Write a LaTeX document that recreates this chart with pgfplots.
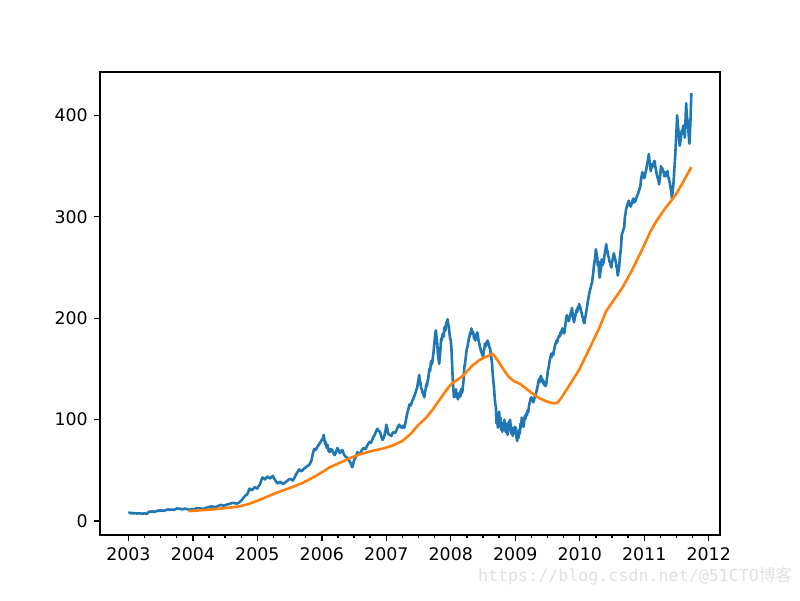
\documentclass[border=0pt]{standalone}
\usepackage{pgfplots}
\pgfplotsset{compat=1.18}
\usepackage{fontspec}
\setmainfont{DejaVu Sans}
\setmonofont{DejaVu Sans Mono}
\newfontfamily\cjk{Noto Sans CJK SC}
\definecolor{mplblue}{HTML}{1F77B4}
\definecolor{mplorange}{HTML}{FF7F0E}
\begin{document}
\begin{tikzpicture}[x=1pt,y=1pt]
\path (0,0) rectangle (576,432);
\begin{axis}[
  at={(72pt,46.8pt)}, anchor=south west,
  scale only axis, width=446.4pt, height=333.36pt,
  xmin=2002.56, xmax=2012.175,
  ymin=-13.75, ymax=442.75,
  axis line style={line width=1pt},
  tick align=outside, xtick pos=bottom, ytick pos=left,
  major tick length=4.32pt, minor tick length=2.5pt,
  every tick/.style={black, line width=1pt},
  xtick={2003,2004,2005,2006,2007,2008,2009,2010,2011,2012},
  xticklabels={2003,2004,2005,2006,2007,2008,2009,2010,2011,2012},
  minor x tick num=3,
  ytick={0,100,200,300,400},
  font=\fontsize{12.5}{15}\selectfont,
  tick label style={font=\fontsize{12.5}{15}\selectfont},
  /pgf/number format/assume math mode=true,
  xticklabel style={yshift=-1pt},
  yticklabel style={xshift=-1pt},
  clip=false,
]
\addplot[mplblue, line width=1.875pt, line join=round] coordinates {
(2003.00,7.9) (2003.02,8.3) (2003.04,7.6) (2003.06,8.0) (2003.08,7.5) (2003.11,7.9) (2003.13,7.4) (2003.15,7.7) (2003.19,7.5) (2003.22,7.3) (2003.25,7.6) (2003.28,7.0)
(2003.31,8.6) (2003.33,9.5) (2003.35,9.0) (2003.37,9.6) (2003.40,9.0) (2003.44,9.8) (2003.47,10.5) (2003.49,10.0) (2003.51,10.6) (2003.55,10.0)
(2003.58,10.8) (2003.62,11.5) (2003.64,10.9) (2003.66,11.4) (2003.70,11.0) (2003.73,11.8) (2003.76,12.5) (2003.78,11.9) (2003.80,12.3) (2003.83,11.5)
(2003.87,12.2) (2003.90,12.0) (2003.95,11.0) (2003.98,11.8) (2004.02,11.5) (2004.06,12.8) (2004.10,12.5) (2004.14,12.2) (2004.17,12.0)
(2004.21,13.2) (2004.24,13.5) (2004.27,14.2) (2004.30,14.5) (2004.33,13.8) (2004.36,14.0) (2004.40,15.0) (2004.43,16.0)
(2004.47,15.2) (2004.50,15.5) (2004.54,16.5) (2004.57,17.0) (2004.60,17.6) (2004.63,18.0) (2004.67,17.2) (2004.70,17.5)
(2004.73,19.0) (2004.75,20.0) (2004.78,22.5) (2004.80,24.0) (2004.82,25.5) (2004.84,26.0) (2004.86,29.0) (2004.88,32.0) (2004.90,31.0)
(2004.92,30.5) (2004.94,32.0) (2004.96,33.5) (2004.98,32.5) (2005.00,32.0) (2005.02,34.5) (2005.04,36.0) (2005.06,40.0) (2005.08,43.0)
(2005.10,42.0) (2005.12,41.0) (2005.14,43.0) (2005.16,44.0) (2005.18,42.5) (2005.20,42.0) (2005.22,43.5) (2005.24,44.5) (2005.26,42.0)
(2005.28,40.0) (2005.30,38.0) (2005.32,37.0) (2005.34,38.5) (2005.36,38.5) (2005.38,37.5) (2005.40,36.5) (2005.43,38.0) (2005.45,39.0)
(2005.48,40.5) (2005.50,41.5) (2005.53,41.0) (2005.55,40.0) (2005.58,43.0) (2005.60,46.0) (2005.63,49.0) (2005.65,51.0)
(2005.68,49.0) (2005.70,50.0) (2005.73,52.0) (2005.75,53.0) (2005.78,54.5) (2005.80,55.0) (2005.82,57.0) (2005.84,60.0) (2005.86,66.0)
(2005.88,71.0) (2005.90,70.0) (2005.92,72.0) (2005.94,74.0) (2005.96,76.0) (2005.98,78.0) (2006.00,80.0) (2006.02,82.0) (2006.03,85.0)
(2006.04,80.0) (2006.05,76.0) (2006.06,78.0) (2006.07,74.0) (2006.08,72.0) (2006.09,75.0) (2006.10,70.0) (2006.12,68.0) (2006.14,71.0) (2006.16,70.0) (2006.18,67.0)
(2006.20,65.0) (2006.22,68.0) (2006.24,72.0) (2006.26,70.0) (2006.28,67.0) (2006.30,69.0) (2006.32,70.0) (2006.34,66.0) (2006.36,64.0)
(2006.38,63.0) (2006.40,62.0) (2006.42,60.0) (2006.44,58.0) (2006.46,55.0) (2006.47,53.0) (2006.49,57.0) (2006.50,60.0) (2006.53,64.0)
(2006.55,68.0) (2006.58,66.0) (2006.60,67.0) (2006.62,70.0) (2006.65,72.0) (2006.68,71.0) (2006.70,74.0) (2006.72,76.0) (2006.74,78.0)
(2006.76,77.0) (2006.78,80.0) (2006.80,83.0) (2006.82,85.0) (2006.84,88.0) (2006.86,91.0) (2006.88,89.0) (2006.90,88.0) (2006.92,84.0)
(2006.94,80.0) (2006.96,82.0) (2006.97,84.0) (2006.99,90.0) (2007.00,95.0) (2007.02,90.0) (2007.03,86.0) (2007.05,85.0) (2007.08,84.0)
(2007.10,87.0) (2007.12,88.0) (2007.14,87.0) (2007.16,90.0) (2007.18,93.0) (2007.20,95.0) (2007.22,93.0) (2007.24,92.0) (2007.26,94.0)
(2007.28,92.0) (2007.30,98.0) (2007.32,105.0) (2007.34,110.0) (2007.36,115.0) (2007.38,114.0) (2007.40,118.0) (2007.42,121.0) (2007.44,124.0)
(2007.46,128.0) (2007.48,132.0) (2007.50,140.0) (2007.51,144.0) (2007.52,138.0) (2007.53,136.0) (2007.54,131.0) (2007.55,130.0) (2007.56,127.0) (2007.57,126.0) (2007.58,124.0) (2007.59,122.0) (2007.60,127.0) (2007.61,130.0)
(2007.62,135.0) (2007.63,133.0) (2007.64,138.0) (2007.65,140.0) (2007.66,146.0) (2007.67,150.0) (2007.68,148.0) (2007.69,156.0) (2007.70,158.0) (2007.71,155.0) (2007.72,160.0) (2007.73,165.0) (2007.74,172.0) (2007.75,178.0) (2007.76,185.0)
(2007.77,188.0) (2007.78,180.0) (2007.79,175.0) (2007.80,165.0) (2007.81,160.0) (2007.82,155.0) (2007.83,162.0) (2007.84,170.0) (2007.85,180.0) (2007.86,178.0) (2007.87,183.0) (2007.88,185.0) (2007.89,182.0) (2007.90,190.0)
(2007.91,192.0) (2007.92,188.0) (2007.93,196.0) (2007.94,193.0) (2007.95,199.0) (2007.96,194.0) (2007.97,192.0) (2007.98,185.0) (2007.99,180.0) (2008.00,178.0) (2008.01,170.0) (2008.02,155.0) (2008.03,140.0)
(2008.04,130.0) (2008.05,122.0) (2008.06,128.0) (2008.07,125.0) (2008.08,130.0) (2008.09,122.0) (2008.10,126.0) (2008.11,120.0) (2008.12,124.0) (2008.13,122.0) (2008.14,127.0) (2008.15,123.0) (2008.16,130.0)
(2008.17,126.0) (2008.18,128.0) (2008.19,134.0) (2008.20,140.0) (2008.21,152.0) (2008.22,155.0) (2008.23,160.0) (2008.24,166.0) (2008.25,170.0) (2008.26,172.0) (2008.27,176.0) (2008.28,180.0) (2008.29,182.0) (2008.30,186.0) (2008.31,184.0) (2008.32,190.0)
(2008.33,186.0) (2008.34,187.0) (2008.35,185.0) (2008.36,180.0) (2008.37,182.0) (2008.38,178.0) (2008.39,184.0) (2008.40,181.0) (2008.41,186.0) (2008.42,183.0) (2008.43,178.0) (2008.44,176.0) (2008.45,172.0) (2008.46,170.0) (2008.47,167.0) (2008.48,166.0)
(2008.49,164.0) (2008.50,162.0) (2008.51,167.0) (2008.52,170.0) (2008.53,175.0) (2008.54,172.0) (2008.55,176.0) (2008.56,174.0) (2008.57,178.0) (2008.58,176.0) (2008.59,174.0) (2008.60,171.0) (2008.61,170.0) (2008.62,165.0) (2008.63,160.0) (2008.64,155.0)
(2008.65,145.0) (2008.66,138.0) (2008.67,132.0) (2008.68,122.0) (2008.69,116.0) (2008.70,112.0) (2008.71,96.0) (2008.72,104.0) (2008.73,92.0) (2008.74,100.0) (2008.75,108.0) (2008.76,95.0) (2008.77,102.0)
(2008.78,90.0) (2008.79,97.0) (2008.80,88.0) (2008.81,96.0) (2008.82,92.0) (2008.83,100.0) (2008.84,94.0) (2008.85,88.0) (2008.86,96.0) (2008.87,90.0) (2008.88,85.0) (2008.89,93.0) (2008.90,98.0) (2008.91,90.0)
(2008.92,100.0) (2008.93,92.0) (2008.94,86.0) (2008.95,92.0) (2008.96,84.0) (2008.97,90.0) (2008.98,86.0) (2008.99,93.0) (2009.00,88.0) (2009.01,92.0) (2009.02,82.0) (2009.03,79.0) (2009.04,86.0)
(2009.05,82.0) (2009.06,90.0) (2009.07,86.0) (2009.08,96.0) (2009.09,92.0) (2009.10,102.0) (2009.11,95.0) (2009.12,99.0) (2009.13,93.0) (2009.14,100.0) (2009.15,104.0) (2009.16,101.0) (2009.17,106.0) (2009.18,104.0) (2009.19,109.0) (2009.20,107.0) (2009.21,112.0) (2009.22,116.0) (2009.23,118.0) (2009.24,121.0) (2009.25,122.0) (2009.26,119.0) (2009.27,120.0) (2009.28,117.0) (2009.29,119.0)
(2009.30,122.0) (2009.31,124.0) (2009.32,126.0) (2009.33,128.0) (2009.34,131.0) (2009.35,134.0) (2009.36,138.0) (2009.37,140.0) (2009.38,137.0) (2009.39,142.0) (2009.40,143.0) (2009.41,139.0) (2009.42,140.0) (2009.43,136.0) (2009.44,138.0) (2009.45,134.0) (2009.46,136.0)
(2009.47,133.0) (2009.48,135.0) (2009.49,140.0) (2009.50,145.0) (2009.51,150.0) (2009.52,152.0) (2009.53,157.0) (2009.54,160.0) (2009.55,163.0) (2009.56,165.0) (2009.57,162.0) (2009.58,166.0) (2009.59,164.0) (2009.60,168.0) (2009.61,171.0) (2009.62,174.0) (2009.63,176.0) (2009.64,178.0)
(2009.65,176.0) (2009.66,180.0) (2009.67,181.0) (2009.68,183.0) (2009.69,182.0) (2009.70,186.0) (2009.71,184.0) (2009.72,188.0) (2009.73,190.0) (2009.74,187.0) (2009.75,188.0) (2009.76,185.0) (2009.77,190.0) (2009.78,195.0) (2009.79,200.0) (2009.80,203.0) (2009.81,199.0) (2009.82,201.0)
(2009.83,197.0) (2009.84,200.0) (2009.85,202.0) (2009.86,205.0) (2009.87,207.0) (2009.88,210.0) (2009.89,204.0) (2009.90,200.0) (2009.91,196.0) (2009.92,199.0) (2009.93,202.0) (2009.94,205.0) (2009.95,208.0) (2009.96,206.0) (2009.97,211.0) (2009.98,209.0) (2009.99,214.0)
(2010.00,212.0) (2010.01,210.0) (2010.02,207.0) (2010.03,205.0) (2010.04,202.0) (2010.05,200.0) (2010.06,197.0) (2010.07,195.0) (2010.08,199.0) (2010.09,202.0) (2010.10,206.0) (2010.11,210.0) (2010.12,214.0) (2010.13,218.0) (2010.14,222.0) (2010.15,225.0) (2010.16,228.0) (2010.17,230.0)
(2010.18,233.0) (2010.19,235.0) (2010.20,240.0) (2010.21,245.0) (2010.22,252.0) (2010.23,256.0) (2010.24,260.0) (2010.25,268.0) (2010.26,264.0) (2010.27,260.0) (2010.28,252.0) (2010.29,256.0) (2010.30,245.0) (2010.31,240.0)
(2010.32,246.0) (2010.33,250.0) (2010.34,258.0) (2010.35,252.0) (2010.36,254.0) (2010.37,255.0) (2010.38,260.0) (2010.39,265.0) (2010.40,268.0) (2010.41,273.0) (2010.42,268.0) (2010.43,266.0) (2010.44,262.0) (2010.45,260.0) (2010.46,256.0) (2010.47,255.0)
(2010.48,252.0) (2010.49,250.0) (2010.50,255.0) (2010.51,258.0) (2010.52,261.0) (2010.53,264.0) (2010.54,260.0) (2010.55,258.0) (2010.56,255.0) (2010.57,251.0) (2010.58,248.0) (2010.59,242.0) (2010.60,246.0) (2010.61,250.0) (2010.62,258.0)
(2010.63,264.0) (2010.64,270.0) (2010.65,282.0) (2010.66,284.0) (2010.67,286.0) (2010.68,288.0) (2010.69,290.0) (2010.70,300.0) (2010.71,303.0) (2010.72,308.0) (2010.73,310.0) (2010.74,312.0) (2010.75,314.0) (2010.76,316.0) (2010.77,311.0) (2010.78,313.0)
(2010.79,310.0) (2010.80,312.0) (2010.81,314.0) (2010.82,316.0) (2010.83,318.0) (2010.84,314.0) (2010.85,317.0) (2010.86,315.0) (2010.87,317.0) (2010.88,319.0) (2010.89,321.0) (2010.90,322.0) (2010.91,324.0) (2010.92,326.0) (2010.93,328.0) (2010.94,330.0)
(2010.95,337.0) (2010.96,340.0) (2010.97,344.0) (2010.98,341.0) (2010.99,342.0) (2011.00,338.0) (2011.01,340.0) (2011.02,344.0) (2011.03,346.0) (2011.04,350.0) (2011.05,354.0) (2011.06,356.0) (2011.07,362.0) (2011.08,356.0) (2011.09,352.0)
(2011.10,345.0) (2011.11,348.0) (2011.12,349.0) (2011.13,352.0) (2011.14,350.0) (2011.15,354.0) (2011.16,355.0) (2011.17,350.0) (2011.18,347.0) (2011.19,343.0) (2011.20,340.0) (2011.21,338.0) (2011.22,336.0) (2011.23,332.0)
(2011.24,337.0) (2011.25,342.0) (2011.26,350.0) (2011.27,346.0) (2011.28,348.0) (2011.29,344.0) (2011.30,345.0) (2011.31,340.0) (2011.32,342.0) (2011.33,340.0) (2011.34,344.0) (2011.35,343.0) (2011.36,345.0) (2011.37,340.0) (2011.38,338.0)
(2011.39,335.0) (2011.40,332.0) (2011.41,328.0) (2011.42,325.0) (2011.43,318.0) (2011.44,325.0) (2011.45,330.0) (2011.46,340.0) (2011.47,350.0) (2011.48,360.0) (2011.49,372.0) (2011.50,385.0) (2011.51,400.0)
(2011.52,392.0) (2011.53,385.0) (2011.54,378.0) (2011.55,370.0) (2011.56,374.0) (2011.57,378.0) (2011.58,385.0) (2011.59,382.0) (2011.60,388.0) (2011.61,390.0) (2011.62,384.0)
(2011.63,378.0) (2011.64,395.0) (2011.65,412.0) (2011.66,400.0) (2011.67,395.0) (2011.68,390.0) (2011.69,380.0) (2011.70,372.0) (2011.71,385.0) (2011.72,400.0) (2011.73,422.0)
};
\addplot[mplorange, line width=1.875pt, line join=round] coordinates {
(2003.93,9.8) (2004.10,10.5) (2004.30,11.5) (2004.50,12.8) (2004.70,14.2) (2004.85,16.5) (2005.00,20.0) (2005.15,24.0)
(2005.30,28.0) (2005.50,32.5) (2005.70,37.5) (2005.85,42.5) (2006.00,48.0) (2006.12,53.0) (2006.30,58.0) (2006.45,62.5)
(2006.60,66.0) (2006.80,69.5) (2006.95,71.5) (2007.10,74.5) (2007.25,79.0) (2007.38,86.0) (2007.50,95.0) (2007.62,102.0)
(2007.72,110.0) (2007.82,119.0) (2007.93,129.0) (2008.02,136.0) (2008.12,140.0) (2008.20,144.0) (2008.33,153.0) (2008.45,159.0)
(2008.55,162.0) (2008.65,165.0) (2008.72,159.0) (2008.80,151.0) (2008.90,142.0) (2008.98,138.0) (2009.08,135.0) (2009.22,128.0)
(2009.35,122.0) (2009.48,118.0) (2009.60,116.0) (2009.66,117.0) (2009.72,122.0) (2009.85,135.0) (2009.99,149.0) (2010.15,170.0)
(2010.30,190.0) (2010.41,207.0) (2010.55,220.0) (2010.66,230.0) (2010.80,246.0) (2010.97,268.0) (2011.10,286.0) (2011.19,296.0)
(2011.30,306.0) (2011.42,316.0) (2011.50,323.0) (2011.60,334.0) (2011.73,349.0)
};
\end{axis}
\node[anchor=base west, text=black!12, inner sep=0pt, font=\fontsize{12}{14}\selectfont] at (344pt,13pt) {\ttfamily https://blog.csdn.net/@51CTO{\cjk 博客}};
\end{tikzpicture}
\end{document}
